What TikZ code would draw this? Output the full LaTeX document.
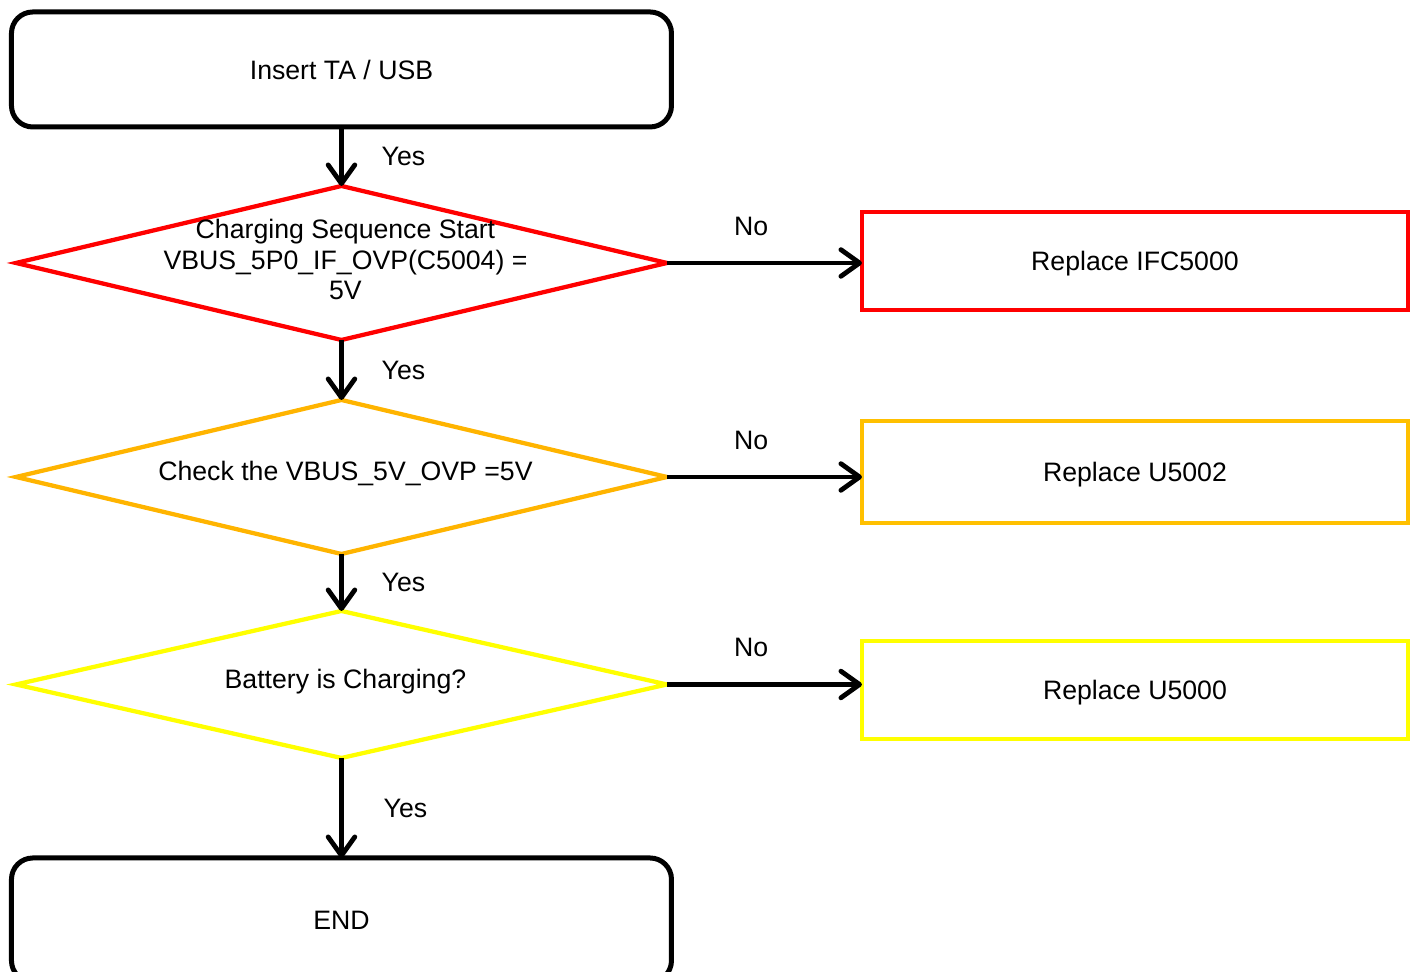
\documentclass[tikz,border=0pt]{standalone}
\usepackage{fontspec}
\setmainfont{Liberation Sans}
\usetikzlibrary{positioning,shapes.geometric,arrows.meta}
\definecolor{ovporange}{HTML}{FFB400}
\definecolor{boxorange}{HTML}{FFC000}
\definecolor{chgyellow}{HTML}{FFFF00}
\begin{document}
\begin{tikzpicture}[every node/.style={outer sep=0pt},
				font=\fontsize{20}{23}\selectfont,
				term/.style={draw,rectangle,rounded corners=16pt,line width=3.75pt,minimum width=495pt,minimum height=86.25pt},
				decision/.style={draw=#1,diamond,line width=3.2pt,inner sep=0pt,minimum width=488.25pt,minimum height=115.5pt},
				dtext/.style={align=center,inner sep=0pt,xshift=3pt,yshift=2.5pt},
				action/.style={draw=#1,rectangle,line width=3.2pt,text depth=0pt,minimum width=409.5pt,minimum height=73.5pt},
				lbl/.style={inner sep=0pt},
				flow/.style={line width=3.6pt,-{Straight Barb[length=14pt,width=20pt,round]}}]
				\useasboundingbox (0,0) rectangle (1062pt,-728.25pt);
				\node[term] (START) at (256.1pt,-52.1pt) {Insert TA / USB};
				\node[decision=red,below=44.25pt of START,
					label={[dtext]center:Charging Sequence Start\\VBUS\_5P0\_IF\_OVP(C5004) =\\5V}] (SEQ) {};
				\node[decision=ovporange,below=45pt of SEQ,
					label={[dtext]center:Check the VBUS\_5V\_OVP =5V}] (OVP) {};
				\node[decision=chgyellow,below=42.75pt of OVP,minimum height=110.25pt,
					label={[dtext]center:Battery is Charging?}] (CHG) {};
				\node[term,below=75pt of CHG,minimum height=93pt] (STOP) {END};
				\node[action=red,right=146.25pt of SEQ,yshift=1.5pt] (RIFC) {Replace IFC5000};
				\node[action=boxorange,right=146.25pt of OVP,yshift=3.75pt,minimum height=76.5pt] (RU5002) {Replace U5002};
				\node[action=chgyellow,right=146.25pt of CHG,yshift=-4pt] (RU5000) {Replace U5000};

				\draw[flow] (START) -- node[lbl,xshift=46.5pt] {Yes} (SEQ);
				\draw[flow] (SEQ) -- node[lbl,xshift=46.5pt] {Yes} (OVP);
				\draw[flow] (OVP) -- node[lbl,xshift=46.5pt] {Yes} (CHG);
				\draw[flow] (CHG) -- node[lbl,xshift=48pt] {Yes} (STOP);
				\draw[flow] (SEQ.east) -- node[lbl,xshift=-10pt,yshift=27.75pt] {No} (SEQ.east -| RIFC.west);
				\draw[flow] (OVP.east) -- node[lbl,xshift=-10pt,yshift=27.75pt] {No} (OVP.east -| RU5002.west);
				\draw[flow] (CHG.east) -- node[lbl,xshift=-10pt,yshift=27.75pt] {No} (CHG.east -| RU5000.west);
			\end{tikzpicture}
\end{document}
